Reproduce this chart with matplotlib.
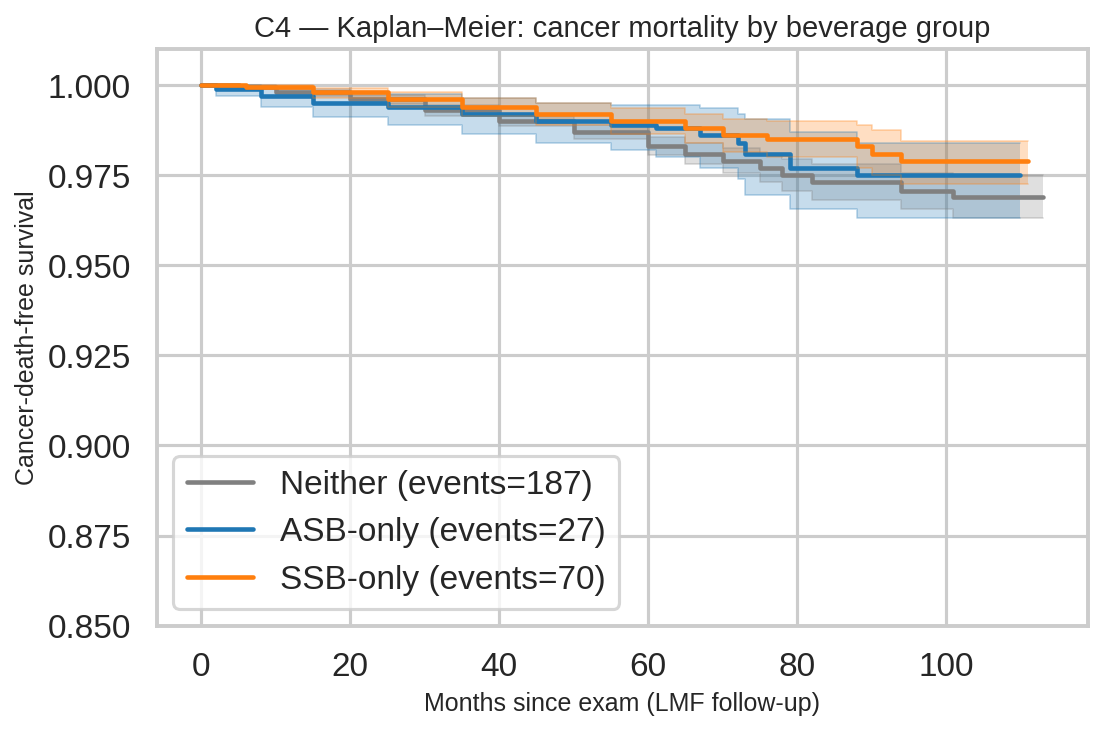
import matplotlib
matplotlib.use("Agg")
import matplotlib.pyplot as plt
import seaborn as sns

sns.set_theme(style="whitegrid", context="talk")
plt.rcParams['font.family'] = ['Liberation Sans', 'DejaVu Sans']

# Kaplan-Meier step points (time in months, survival), CI bounds
nei_t = [0, 5, 10, 20, 30, 40, 50, 60, 65, 70, 75, 78, 82, 94, 101, 113]
nei_s = [1.0, 0.9995, 0.998, 0.996, 0.993, 0.990, 0.987, 0.983, 0.981, 0.979, 0.977, 0.975, 0.973, 0.9705, 0.969, 0.969]
nei_lo = [1.0, 0.9990, 0.997, 0.9948, 0.9915, 0.9885, 0.985, 0.9805, 0.978, 0.9755, 0.973, 0.9705, 0.968, 0.9655, 0.963, 0.963]
nei_hi = [1.0, 0.9999, 0.999, 0.9972, 0.9945, 0.9915, 0.989, 0.9855, 0.984, 0.9825, 0.981, 0.9795, 0.978, 0.9755, 0.975, 0.975]

asb_t = [0, 2, 8, 15, 25, 35, 45, 55, 61, 67, 72, 73, 79, 88, 110]
asb_s = [1.0, 0.999, 0.997, 0.995, 0.994, 0.992, 0.990, 0.989, 0.988, 0.986, 0.984, 0.981, 0.977, 0.975, 0.975]
asb_lo = [1.0, 0.997, 0.994, 0.991, 0.989, 0.9865, 0.984, 0.982, 0.980, 0.977, 0.974, 0.9695, 0.9655, 0.963, 0.963]
asb_hi = [1.0, 1.0, 0.9995, 0.998, 0.9975, 0.9965, 0.995, 0.9945, 0.9945, 0.9935, 0.992, 0.9905, 0.987, 0.984, 0.984]

ssb_t = [0, 6, 15, 25, 35, 45, 55, 65, 70, 76, 88, 90, 94, 111]
ssb_s = [1.0, 0.9995, 0.998, 0.996, 0.994, 0.992, 0.990, 0.988, 0.986, 0.985, 0.983, 0.981, 0.979, 0.979]
ssb_lo = [1.0, 0.999, 0.9965, 0.994, 0.9915, 0.989, 0.9865, 0.984, 0.9815, 0.980, 0.977, 0.975, 0.9725, 0.9725]
ssb_hi = [1.0, 1.0, 0.9993, 0.998, 0.9965, 0.995, 0.9935, 0.992, 0.9905, 0.990, 0.989, 0.9875, 0.9845, 0.9845]

groups = [
    ("Neither (events=187)", nei_t, nei_s, nei_lo, nei_hi, "gray"),
    ("ASB-only (events=27)", asb_t, asb_s, asb_lo, asb_hi, "#1f77b4"),
    ("SSB-only (events=70)", ssb_t, ssb_s, ssb_lo, ssb_hi, "#ff7f0e"),
]

fig, ax = plt.subplots(figsize=(7.35, 4.87), dpi=150)
for label, t, s, lo, hi, c in groups:
    ax.fill_between(t, lo, hi, step="post", color=c, alpha=0.25, linewidth=0)
    ax.step(t, lo, where="post", color=c, alpha=0.3, linewidth=0.8)
    ax.step(t, hi, where="post", color=c, alpha=0.3, linewidth=0.8)
    ax.step(t, s, where="post", color=c, linewidth=2.2, label=label)

ax.set_ylim(0.85, 1.01)
ax.set_xlim(-6, 119)
ax.tick_params(labelsize=16)
ax.set_title("C4 — Kaplan–Meier: cancer mortality by beverage group", fontsize=14)
ax.set_xlabel("Months since exam (LMF follow-up)", fontsize=12)
ax.set_ylabel("Cancer-death-free survival", fontsize=12)
ax.legend(loc="lower left", fontsize=16)
fig.tight_layout(pad=0.4)
fig.savefig("out.png", dpi=150)
